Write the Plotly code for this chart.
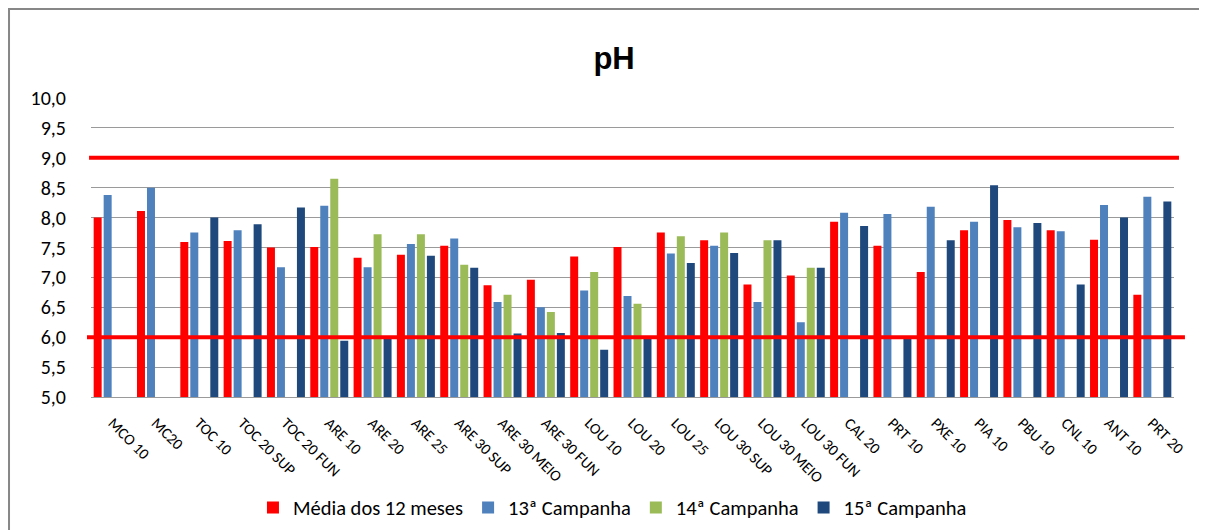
import plotly.graph_objects as go

categories = ["MCO 10", "MC20", "TOC 10", "TOC 20 SUP", "TOC 20 FUN", "ARE 10", "ARE 20",
              "ARE 25", "ARE 30 SUP", "ARE 30 MEIO", "ARE 30 FUN", "LOU 10", "LOU 20",
              "LOU 25", "LOU 30 SUP", "LOU 30 MEIO", "LOU 30 FUN", "CAL 20", "PRT 10",
              "PXE 10", "PIA 10", "PBU 10", "CNL 10", "ANT 10", "PRT 20"]

media_12_meses = [8.00, 8.11, 7.59, 7.61, 7.50, 7.51, 7.33, 7.38, 7.53, 6.87, 6.96, 7.35, 7.51,
                  7.75, 7.62, 6.88, 7.03, 7.93, 7.53, 7.09, 7.79, 7.96, 7.79, 7.63, 6.71]
campanha_13 = [8.38, 8.50, 7.75, 7.79, 7.17, 8.20, 7.17, 7.56, 7.65, 6.59, 6.50, 6.78, 6.69,
               7.40, 7.53, 6.59, 6.25, 8.08, 8.06, 8.18, 7.93, 7.84, 7.77, 8.21, 8.35]
campanha_14 = [None, None, None, None, None, 8.65, 7.72, 7.72, 7.21, 6.71, 6.42, 7.09, 6.56,
               7.69, 7.75, 7.62, 7.16, None, None, None, None, None, None, None, None]
campanha_15 = [None, None, 8.00, 7.89, 8.17, 5.94, 6.00, 7.36, 7.16, 6.06, 6.07, 5.79, 5.99,
               7.24, 7.41, 7.62, 7.16, 7.86, 6.00, 7.62, 8.54, 7.91, 6.88, 8.00, 8.27]

series_names = ["Média dos 12 meses", "13ª Campanha", "14ª Campanha", "15ª Campanha"]
limits = [9.0, 6.0]
y_ticks = [5.0, 5.5, 6.0, 6.5, 7.0, 7.5, 8.0, 8.5, 9.0, 9.5, 10.0]

colors = ["#FF0000", "#4F81BD", "#9BBB59", "#1F497D"]
FONT = "Calibri, Carlito, 'Liberation Sans', Arial, sans-serif"

fig = go.Figure()
for name, vals, col in zip(series_names, [media_12_meses, campanha_13, campanha_14, campanha_15], colors):
    fig.add_trace(go.Bar(x=categories, y=vals, name=name, marker=dict(color=col, line=dict(width=0))))

# limit lines (drawn above bars)
limit_extents = [(-0.0018, 1.0046), (-0.0037, 1.0101)]
for lim, (xa, xb) in zip(limits, limit_extents):
    fig.add_shape(type="line", xref="paper", yref="y", x0=xa, x1=xb, y0=lim, y1=lim,
                  line=dict(color="#FF0000", width=4), layer="above")

# chart border (top and left edges visible, right/bottom beyond the view)
fig.add_shape(type="rect", xref="paper", yref="paper", x0=-0.0757, x1=1.08, y0=-0.6, y1=1.298,
              line=dict(color="#878787", width=2), fillcolor="rgba(0,0,0,0)", layer="below")

fig.update_layout(
    width=1199, height=522,
    margin=dict(l=83, r=33, t=90, b=133, autoexpand=False),
    paper_bgcolor="white", plot_bgcolor="white",
    separators=",.",
    barmode="group", bargap=0.077, bargroupgap=0.2,
    font=dict(family=FONT, color="#000000"),
    title=dict(text="<b>pH</b>", x=0.5055, xanchor="center", y=0.903, yanchor="middle",
               font=dict(family="'Liberation Sans', Arial, sans-serif", size=31, color="#000000")),
    showlegend=True,
    legend=dict(orientation="h", x=0.4815, xanchor="center", y=-0.37, yanchor="middle",
                font=dict(size=20.5, family=FONT), itemwidth=30, traceorder="normal"),
)
fig.update_yaxes(range=[5, 10], tickvals=y_ticks, tickformat=".1f", showgrid=True,
                 gridcolor="#9a9a9a", gridwidth=1, zeroline=False, showline=False,
                 ticks="", ticklabelstandoff=24, tickfont=dict(size=20, family=FONT),
                 automargin=False)
fig.update_xaxes(tickangle=45, showgrid=False, showline=True, linecolor="#9a9a9a", linewidth=1,
                 ticks="", tickfont=dict(size=15.5, family=FONT), ticklabelstandoff=10,
                 automargin=False)

fig.write_html("out.html")
